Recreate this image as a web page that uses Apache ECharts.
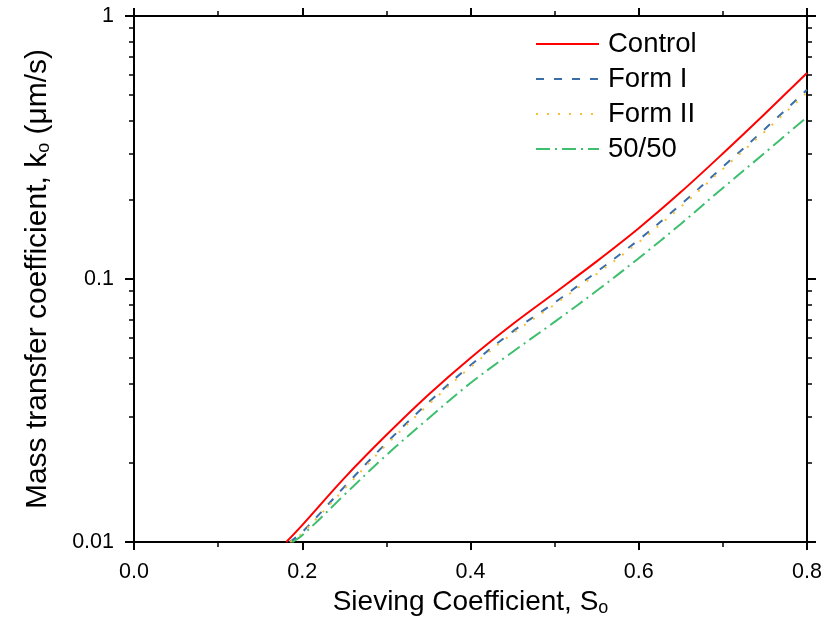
<!DOCTYPE html>
<html>
<head>
<meta charset="utf-8">
<script src="https://cdn.jsdelivr.net/npm/echarts@6/dist/echarts.min.js"></script>
<style>
  html, body { margin: 0; padding: 0; background: #fff; }
  #chart { width: 825px; height: 630px; }
</style>
</head>
<body>
<div id="chart"></div>
<script>
// values (x = sieving coefficient, y = k_o in µm/s)
const seriesNames = ['Control', 'Form I', 'Form II', '50/50']

const xControl = [0.181, 0.2, 0.25, 0.3, 0.35, 0.4, 0.45, 0.5, 0.55, 0.6, 0.65, 0.7, 0.75, 0.8]
const yControl = [0.01, 0.0116, 0.0175, 0.0255, 0.0363, 0.0501, 0.0673, 0.0885, 0.1167, 0.156, 0.214, 0.300, 0.425, 0.607]

const xFormI = [0.185, 0.2, 0.25, 0.3, 0.35, 0.4, 0.45, 0.5, 0.55, 0.6, 0.65, 0.7, 0.75, 0.8]
const yFormI = [0.01, 0.0109, 0.0162, 0.0238, 0.0339, 0.0470, 0.0631, 0.0813, 0.1064, 0.141, 0.192, 0.267, 0.372, 0.524]

const xFormII = [0.186, 0.2, 0.25, 0.3, 0.35, 0.4, 0.45, 0.5, 0.55, 0.6, 0.65, 0.7, 0.75, 0.8]
const yFormII = [0.01, 0.0108, 0.0159, 0.0234, 0.0333, 0.0462, 0.0620, 0.0800, 0.1045, 0.138, 0.188, 0.262, 0.364, 0.512]

const x5050 = [0.188, 0.2, 0.25, 0.3, 0.35, 0.4, 0.45, 0.5, 0.55, 0.6, 0.65, 0.7, 0.75, 0.8]
const y5050 = [0.01, 0.0106, 0.0151, 0.0214, 0.0295, 0.0402, 0.0528, 0.0687, 0.0902, 0.120, 0.162, 0.222, 0.302, 0.413]

// minor ticks of the log axis (2..9 in each decade)
const minorY = [0.02, 0.03, 0.04, 0.05, 0.06, 0.07, 0.08, 0.09, 0.2, 0.3, 0.4, 0.5, 0.6, 0.7, 0.8, 0.9]

const font = 'Liberation Sans, Arial, sans-serif'
const black = { color: '#000', width: 2 }

const pairs = (xs, ys) => xs.map((x, i) => [x, ys[i]])

const chart = echarts.init(document.getElementById('chart'))

const yBase = {
  type: 'log',
  min: 0.01,
  max: 1,
  splitLine: { show: false },
  axisLine: { show: true, lineStyle: black },
  axisLabel: { show: false },
  axisTick: { show: true, length: 9, lineStyle: black }
}

const yMinor = Object.assign({}, yBase, {
  axisLine: { show: false },
  axisTick: { show: true, length: 5, customValues: minorY, lineStyle: { color: '#000', width: 1.5 } }
})

const xBase = {
  type: 'value',
  min: 0,
  max: 0.8,
  interval: 0.2,
  splitLine: { show: false },
  axisLine: { show: true, onZero: false, lineStyle: black },
  axisTick: { show: true, length: 8, lineStyle: black },
  minorTick: { show: true, splitNumber: 2, length: 5, lineStyle: { color: '#000', width: 1.5 } },
  axisLabel: { show: false }
}

const subRich = { sub: { fontSize: 18, padding: [13, 0, 0, 0], color: '#000', fontFamily: font } }

function lineSeries (name, xs, ys, color, width, type) {
  return {
    name: name,
    type: 'line',
    smooth: 0.35,
    symbol: 'none',
    data: pairs(xs, ys),
    lineStyle: { color: color, width: width, type: type },
    itemStyle: { color: color }
  }
}

chart.setOption({
  animation: false,
  textStyle: { fontFamily: font },
  grid: { left: 134, right: 18, top: 16, bottom: 88 },
  legend: {
    orient: 'vertical',
    left: 535,
    top: 30,
    padding: 0,
    itemWidth: 63,
    itemHeight: 14,
    itemGap: 7,
    data: seriesNames,
    itemStyle: { color: 'rgba(0,0,0,0)', borderWidth: 0, borderColor: 'rgba(0,0,0,0)' },
    textStyle: { fontSize: 27.5, lineHeight: 27, color: '#000', fontFamily: font, padding: [0, 0, 0, 4] }
  },
  xAxis: [
    Object.assign({}, xBase, {
      position: 'bottom',
      name: 'Sieving Coefficient, S{sub|o}',
      nameLocation: 'middle',
      nameGap: 34,
      nameTextStyle: { fontSize: 28, color: '#000', fontFamily: font, rich: subRich },
      axisLabel: { show: true, fontSize: 21.5, color: '#000', margin: 19, fontFamily: font, formatter: v => v.toFixed(1) }
    }),
    Object.assign({}, xBase, { position: 'top' })
  ],
  yAxis: [
    Object.assign({}, yBase, {
      position: 'left',
      name: 'Mass transfer coefficient, k{sub|o} (μm/s)',
      nameLocation: 'middle',
      nameGap: 81,
      nameTextStyle: { fontSize: 30, color: '#000', fontFamily: font, rich: subRich, padding: [0, 0, 0, 0] },
      axisLabel: { show: true, fontSize: 21.5, color: '#000', margin: 20, fontFamily: font }
    }),
    Object.assign({}, yMinor, { position: 'left' }),
    Object.assign({}, yBase, { position: 'right' }),
    Object.assign({}, yMinor, { position: 'right' })
  ],
  series: [
    lineSeries('Control', xControl, yControl, '#ff0000', 2, 'solid'),
    lineSeries('Form I', xFormI, yFormI, '#3a6ea8', 2, [8, 10]),
    lineSeries('Form II', xFormII, yFormII, '#f5c03a', 2, [2, 9]),
    lineSeries('50/50', x5050, y5050, '#3dbf6e', 2, [14, 5, 2, 5])
  ]
})
</script>
</body>
</html>
